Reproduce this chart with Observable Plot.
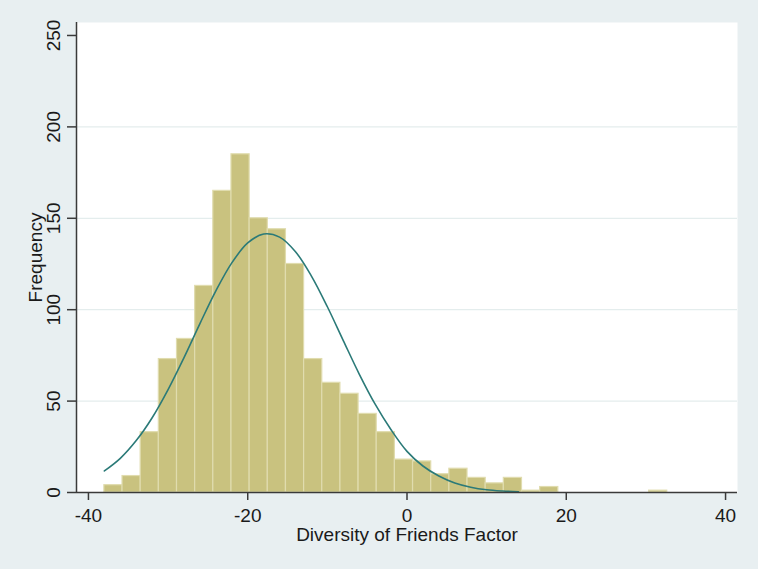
<!DOCTYPE html>
<html>
<head>
<meta charset="utf-8">
<script src="https://cdn.jsdelivr.net/npm/d3@7"></script>
<script src="https://cdn.jsdelivr.net/npm/@observablehq/plot@0.6"></script>
<style>
  html, body { margin: 0; padding: 0; background: #e8eff1; }
  #chart svg { display: block; }
</style>
</head>
<body>
<div id="chart"></div>
<script>
// Histogram bins (left/right edges) and frequencies
const binEdges = [-38.00, -35.72, -33.44, -31.16, -28.88, -26.60, -24.32, -22.04, -19.76, -17.48,
  -15.20, -12.92, -10.64, -8.36, -6.08, -3.80, -1.52, 0.76, 3.04, 5.32, 7.60, 9.88, 12.16,
  14.44, 16.72, 19.00, 21.28, 23.56, 25.84, 28.12, 30.40, 32.68];
const frequencies = [4, 9, 33, 73, 84, 113, 165, 185, 150, 144, 125, 73, 60, 54, 43, 33, 18, 17,
  10, 13, 8, 5, 8, 1, 3, 0, 0, 0, 0, 0, 1];

// Normal-density overlay
const curveX = [-38, -36, -34, -32, -30, -28, -26, -24, -22, -20, -18, -16, -14, -12, -10, -8,
  -6, -4, -2, 0, 2, 4, 6, 8, 10, 12, 14];
const curveY = [11.8, 18.7, 28.4, 40.9, 56.3, 73.8, 92.4, 110.3, 125.6, 136.5, 141.4, 139.7,
  131.7, 118.4, 101.6, 83.1, 64.8, 48.3, 34.3, 22.5, 14.5, 9.0, 5.2, 2.9, 1.5, 0.8, 0.4];

// Axis ticks and labels
const xTicks = [-40, -20, 0, 20, 40];
const yTicks = [0, 50, 100, 150, 200, 250];
const yGrid = [50, 100, 150, 200];
const xTitle = "Diversity of Friends Factor";
const yTitle = "Frequency";

const bars = frequencies.map((f, i) => ({x1: binEdges[i], x2: binEdges[i + 1], y: f}))
  .filter(d => d.y > 0);
const curve = curveX.map((x, i) => ({x, y: curveY[i]}));

const font = "'Liberation Sans', Arial, sans-serif";
const ink = "#1a1a1a";
const axisColor = "#3a3a3a";

const chart = Plot.plot({
  width: 758,
  height: 569,
  marginLeft: 76,
  marginRight: 21,
  marginTop: 22,
  marginBottom: 77,
  style: {background: "#e8eff1", fontFamily: font, color: ink},
  x: {domain: [-41.5, 41.5]},
  y: {domain: [0, 257.1]},
  marks: [
    Plot.frame({fill: "white", stroke: null}),
    Plot.ruleY(yGrid, {stroke: "#e4eded", strokeWidth: 1.2}),
    Plot.rectY(bars, {x1: "x1", x2: "x2", y: "y", fill: "#c9c27f", stroke: "#e0dcae", strokeWidth: 1.2}),
    Plot.line(curve, {x: "x", y: "y", stroke: "#2b7a78", strokeWidth: 1.6, curve: "catmull-rom"}),
    Plot.ruleY([0], {stroke: axisColor, strokeWidth: 1.5}),
    Plot.ruleX([-41.5], {stroke: axisColor, strokeWidth: 1.5}),
    Plot.axisX({ticks: xTicks, tickSize: 8, tickPadding: 7.5, fontSize: 19, stroke: axisColor,
      strokeWidth: 1.5, label: null, tickFormat: d => String(d).replace("−", "-")}),
    Plot.axisY({ticks: yTicks, tickSize: 9, tickFormat: () => "", stroke: axisColor,
      strokeWidth: 1.5, label: null}),
    Plot.text(yTicks, {y: d => d, text: d => String(d), frameAnchor: "left", dx: -17,
      rotate: -90, textAnchor: "middle", lineAnchor: "bottom", fontSize: 19, fill: ink}),
    Plot.text([yTitle], {frameAnchor: "left", dx: -35, rotate: -90, textAnchor: "middle",
      lineAnchor: "bottom", fontSize: 19, fill: ink}),
    Plot.text([xTitle], {frameAnchor: "bottom", dy: 35, textAnchor: "middle",
      lineAnchor: "top", fontSize: 19, fill: ink})
  ]
});
document.getElementById("chart").appendChild(chart);
</script>
</body>
</html>
